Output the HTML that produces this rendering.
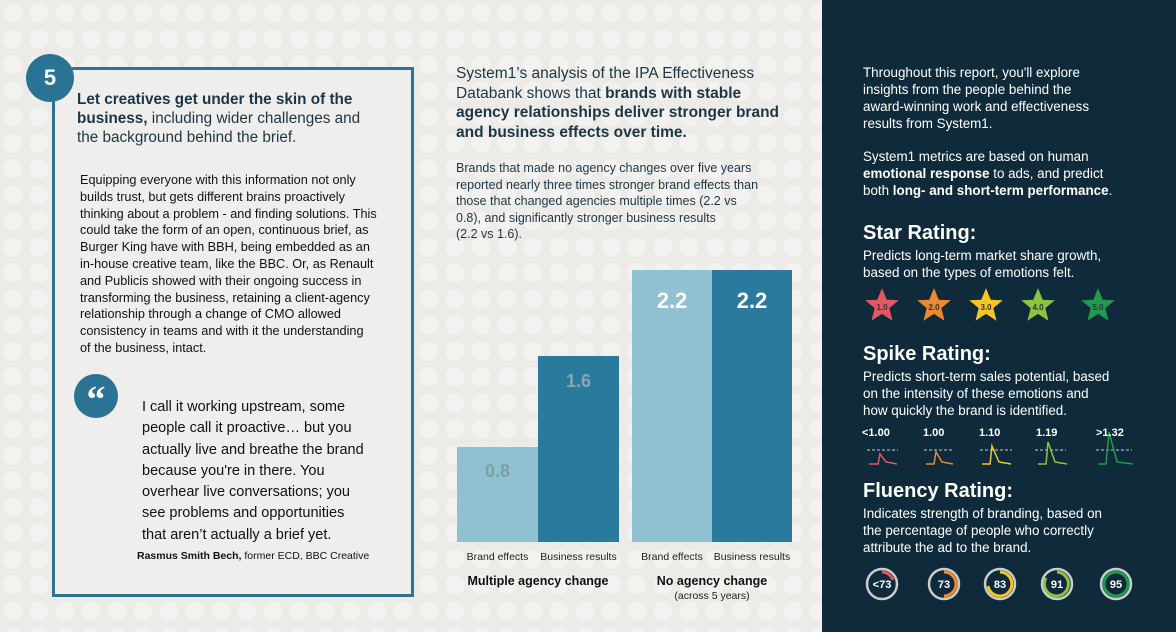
<!DOCTYPE html>
<html><head><meta charset="utf-8">
<style>
*{margin:0;padding:0;box-sizing:border-box}
body{width:1176px;height:632px;overflow:hidden;position:relative;font-family:"Liberation Sans",sans-serif;
background-color:#ecebe8;background-image:radial-gradient(circle,#f3f2f0 9px,transparent 10px);background-size:26px 26px}
.a{position:absolute;white-space:nowrap}
.box{position:absolute;left:52px;top:67px;width:362px;height:530px;border:3px solid #2c7396;background:#efeeec}
.num{position:absolute;left:26px;top:54px;width:48px;height:48px;border-radius:50%;background:#2a7394;color:#fff;font-weight:bold;font-size:22px;text-align:center;line-height:48px}
.dark{position:absolute;left:822px;top:0;width:354px;height:632px;background:#0f2a3a}
.w{color:#fff}
.bar{position:absolute}
</style></head><body>
<div class="box"></div>
<div class="num">5</div>
<div class="a" style="left:77px;top:90px;font-size:15.3px;line-height:19px;color:#1d3646">
<b>Let creatives get under the skin of the</b><br><b>business,</b> including wider challenges and<br>the background behind the brief.</div>
<div class="a" style="left:80px;top:172px;font-size:12.7px;line-height:16.8px;color:#111">
Equipping everyone with this information not only<br>builds trust, but gets different brains proactively<br>thinking about a problem - and finding solutions. This<br>could take the form of an open, continuous brief, as<br>Burger King have with BBH, being embedded as an<br>in-house creative team, like the BBC. Or, as Renault<br>and Publicis showed with their ongoing success in<br>transforming the business, retaining a client-agency<br>relationship through a change of CMO allowed<br>consistency in teams and with it the understanding<br>of the business, intact.</div>
<div style="position:absolute;left:74px;top:374px;width:44px;height:44px;border-radius:50%;background:#2a7394;color:#fff;font:bold 38px/52px 'Liberation Serif',serif;text-align:center">“</div>
<div class="a" style="left:142px;top:397px;font-size:14.5px;line-height:21.3px;color:#111">
I call it working upstream, some<br>people call it proactive… but you<br>actually live and breathe the brand<br>because you're in there. You<br>overhear live conversations; you<br>see problems and opportunities<br>that aren’t actually a brief yet.</div>
<div class="a" style="left:137px;top:550px;font-size:10.5px;color:#111"><b>Rasmus Smith Bech,</b> former ECD, BBC Creative</div>

<div class="a" style="left:456px;top:64px;font-size:15.5px;line-height:19.5px;color:#1d3646">
System1’s analysis of the IPA Effectiveness<br>Databank shows that <b>brands with stable</b><br><b>agency relationships deliver stronger brand</b><br><b>and business effects over time.</b></div>
<div class="a" style="left:456px;top:160px;font-size:12.5px;line-height:16.5px;color:#1d3646">
Brands that made no agency changes over five years<br>reported nearly three times stronger brand effects than<br>those that changed agencies multiple times (2.2 vs<br>0.8), and significantly stronger business results<br>(2.2 vs 1.6).</div>
<div class="bar" style="left:457px;top:447px;width:81px;height:95px;background:#8fc1d0"></div>
<div class="bar" style="left:538px;top:356px;width:81px;height:186px;background:#2a7a9e"></div>
<div class="bar" style="left:632px;top:270px;width:80px;height:272px;background:#8fc1d0"></div>
<div class="bar" style="left:712px;top:270px;width:80px;height:272px;background:#2a7a9e"></div>
<div class="a" style="left:457px;width:81px;text-align:center;top:461px;font:bold 18px 'Liberation Sans',sans-serif;color:#7f9ea8">0.8</div>
<div class="a" style="left:538px;width:81px;text-align:center;top:371px;font:bold 18px 'Liberation Sans',sans-serif;color:#8aa7b4">1.6</div>
<div class="a" style="left:632px;width:80px;text-align:center;top:288px;font:bold 22px 'Liberation Sans',sans-serif;color:#fff">2.2</div>
<div class="a" style="left:712px;width:80px;text-align:center;top:288px;font:bold 22px 'Liberation Sans',sans-serif;color:#fff">2.2</div>
<div class="a" style="left:457px;width:81px;text-align:center;top:551px;font-size:10.5px;color:#222">Brand effects</div>
<div class="a" style="left:538px;width:81px;text-align:center;top:551px;font-size:10.5px;color:#222">Business results</div>
<div class="a" style="left:632px;width:80px;text-align:center;top:551px;font-size:10.5px;color:#222">Brand effects</div>
<div class="a" style="left:712px;width:80px;text-align:center;top:551px;font-size:10.5px;color:#222">Business results</div>
<div class="a" style="left:457px;width:162px;text-align:center;top:574px;font-size:12.5px;font-weight:bold;color:#111">Multiple agency change</div>
<div class="a" style="left:632px;width:160px;text-align:center;top:574px;font-size:12.5px;font-weight:bold;color:#111">No agency change</div>
<div class="a" style="left:632px;width:160px;text-align:center;top:590px;font-size:10.5px;color:#222">(across 5 years)</div>

<div class="dark"></div>
<div class="a w" style="left:863px;top:64px;font-size:13.4px;line-height:17px">
Throughout this report, you'll explore<br>insights from the people behind the<br>award-winning work and effectiveness<br>results from System1.<br><span style="display:block;height:16px"></span>System1 metrics are based on human<br><b>emotional response</b> to ads, and predict<br>both <b>long- and short-term performance</b>.</div>
<div class="a w" style="left:863px;top:222px;font-size:20px;font-weight:bold">Star Rating:</div>
<div class="a w" style="left:863px;top:247px;font-size:13.4px;line-height:17px">Predicts long-term market share growth,<br>based on the types of emotions felt.</div>
<svg style="position:absolute;left:822px;top:282px" width="354" height="200">
<defs><polygon id="st" points="0,-17 4.5,-6 16,-5.5 7,2 10,14 0,7.5 -10,14 -7,2 -16,-5.5 -4.5,-6" transform="scale(1)"/></defs>
<g font-family="Liberation Sans" font-size="8" font-weight="bold" text-anchor="middle" fill="#333">
<g transform="translate(60,24) scale(1.05)"><use href="#st" fill="#e45762"/></g><text x="60" y="28">1.0</text>
<g transform="translate(112,24) scale(1.05)"><use href="#st" fill="#ee8a2e"/></g><text x="112" y="28">2.0</text>
<g transform="translate(164,24) scale(1.05)"><use href="#st" fill="#f5c623"/></g><text x="164" y="28">3.0</text>
<g transform="translate(216,24) scale(1.05)"><use href="#st" fill="#8cc43c"/></g><text x="216" y="28">4.0</text>
<g transform="translate(276,24) scale(1.05)"><use href="#st" fill="#1f9a4e"/></g><text x="276" y="28">5.0</text>
</g>
<g stroke="#ccc" stroke-dasharray="3,2" stroke-width="1">
<line x1="45" y1="168" x2="76" y2="168"/><line x1="102" y1="168" x2="132" y2="168"/><line x1="158" y1="168" x2="190" y2="168"/><line x1="213" y1="168" x2="244" y2="168"/><line x1="274" y1="168" x2="310" y2="168"/></g>
<g fill="none" stroke-width="1.5">
<path d="M47,182 H56 L58,172 L64,180 L75,182" stroke="#e45762"/>
<path d="M104,182 H112 L114,170 L120,180 L131,182" stroke="#ee8a2e"/>
<path d="M160,182 H168 L170,164 L177,180 L189,182" stroke="#f5c623"/>
<path d="M216,182 H224 L226,160 L233,180 L245,182" stroke="#8cc43c"/>
<path d="M276,182 H284 L287,150 L295,180 L311,182" stroke="#1f9a4e"/>
</g></svg>
<div class="a w" style="left:863px;top:343px;font-size:20px;font-weight:bold">Spike Rating:</div>
<div class="a w" style="left:863px;top:368px;font-size:13.4px;line-height:17px">Predicts short-term sales potential, based<br>on the intensity of these emotions and<br>how quickly the brand is identified.</div>
<div class="a w" style="left:862px;top:427px;font-size:11px;font-weight:bold">&lt;1.00</div>
<div class="a w" style="left:923px;top:427px;font-size:11px;font-weight:bold">1.00</div>
<div class="a w" style="left:979px;top:427px;font-size:11px;font-weight:bold">1.10</div>
<div class="a w" style="left:1036px;top:427px;font-size:11px;font-weight:bold">1.19</div>
<div class="a w" style="left:1096px;top:427px;font-size:11px;font-weight:bold">&gt;1.32</div>
<div class="a w" style="left:863px;top:480px;font-size:20px;font-weight:bold">Fluency Rating:</div>
<div class="a w" style="left:863px;top:505px;font-size:13.4px;line-height:17px">Indicates strength of branding, based on<br>the percentage of people who correctly<br>attribute the ad to the brand.</div>
<svg style="position:absolute;left:822px;top:560px" width="354" height="50">
<g fill="none" stroke-width="2.5">
<circle cx="60" cy="24" r="15" stroke="#ccc"/><path d="M60,12 A12,12 0 0 1 71,20" stroke="#e45762" stroke-width="3"/>
<circle cx="122" cy="24" r="15" stroke="#ccc"/><path d="M122,12 A12,12 0 0 1 122,36" stroke="#ee8a2e" stroke-width="3"/>
<circle cx="178" cy="24" r="15" stroke="#ccc"/><path d="M178,12 A12,12 0 1 1 166,26" stroke="#f5c623" stroke-width="3"/>
<circle cx="235" cy="24" r="15" stroke="#ccc"/><path d="M235,12 A12,12 0 1 1 224,18" stroke="#8cc43c" stroke-width="3"/>
<circle cx="294" cy="24" r="15" stroke="#ccc"/><circle cx="294" cy="24" r="12" stroke="#1f9a4e" stroke-width="3"/>
</g>
<g font-family="Liberation Sans" font-size="11" font-weight="bold" fill="#fff" text-anchor="middle">
<text x="60" y="28">&lt;73</text><text x="122" y="28">73</text><text x="178" y="28">83</text><text x="235" y="28">91</text><text x="294" y="28">95</text></g>
</svg>
</body></html>
